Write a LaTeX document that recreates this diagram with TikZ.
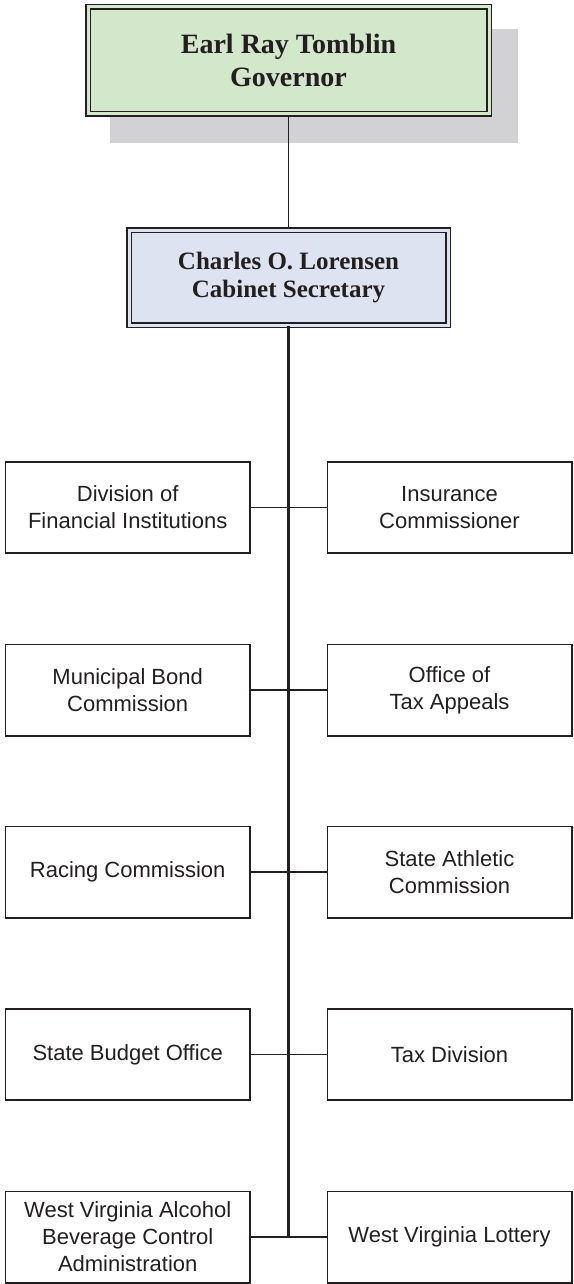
\documentclass[tikz,border=0pt]{standalone}
\usepackage{fontspec}
\setmainfont{Liberation Serif}
\newfontfamily\arialfont{Liberation Sans}
\definecolor{govgreen}{HTML}{D3E7CB}
\definecolor{secblue}{HTML}{DEE3F2}
\definecolor{shadowc}{HTML}{D2D2D4}
\definecolor{inkc}{HTML}{231F20}
\begin{document}
\begin{tikzpicture}[x=1pt,y=-1pt,
  headbox/.style={draw=inkc, line width=1.6pt, double distance=3pt, inner sep=0pt,
    align=center, text=inkc},
  unitbox/.style={draw=inkc, line width=1.6pt, inner sep=0pt, align=center, text=inkc,
    minimum width=244.4pt, minimum height=91.4pt,
    font=\arialfont\fontsize{22}{27}\selectfont},
  link/.style={draw=inkc, line width=1.6pt},
  spine/.style={draw=inkc, line width=2.1pt}]
\useasboundingbox (0,0) rectangle (573,1284);
% shadow
\node[fill=shadowc, inner sep=0pt, minimum width=408pt, minimum height=114pt] (govshadow) at (314,86) {};
% governor
\node[headbox, double=govgreen, fill=govgreen, minimum width=401pt, minimum height=107pt,
  font=\fontsize{28}{33}\selectfont\bfseries] (gov) at (288.5,60.5) {Earl Ray Tomblin\\Governor};
% secretary
\node[headbox, double=secblue, fill=secblue, minimum width=319pt, minimum height=95pt,
  font=\fontsize{25}{28.5}\selectfont\bfseries] (sec) at (288.5,277.5) {Charles O. Lorensen\\Cabinet Secretary};
% units
\node[unitbox] (l1) at (127.7,507.5) {Division of\\Financial Institutions};
\node[unitbox] (r1) at (449.5,507.5) {Insurance\\Commissioner};
\node[unitbox] (l2) at (127.7,690) {Municipal Bond\\Commission};
\node[unitbox] (r2) at (449.5,690) {Office of\\Tax Appeals};
\node[unitbox] (l3) at (127.7,872) {Racing Commission};
\node[unitbox] (r3) at (449.5,872) {State Athletic\\Commission};
\node[unitbox] (l4) at (127.7,1054.5) {State Budget Office};
\node[unitbox] (r4) at (449.5,1054.5) {Tax Division};
\node[unitbox] (l5) at (127.7,1237) {West Virginia Alcohol\\Beverage Control\\Administration};
\node[unitbox] (r5) at (449.5,1237) {West Virginia Lottery};
\coordinate (spineend) at (288.5,1237);
% connectors
\draw[link] (gov.south) -- (sec.north);
\draw[spine] (sec.south) -- (spineend);
\foreach \i in {1,...,5} {\draw[link] (l\i.east) -- (r\i.west);}
\end{tikzpicture}
\end{document}
